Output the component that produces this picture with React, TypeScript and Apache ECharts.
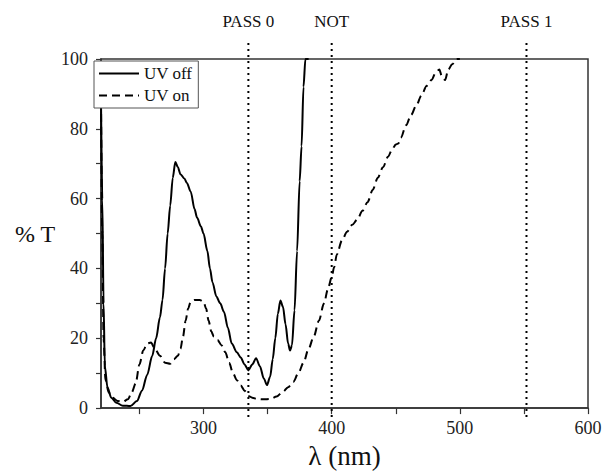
import React, { useEffect, useRef } from "react";
import * as echarts from "echarts";

// UV off (solid) – wavelength (nm) and transmittance (%)
const uvOffWavelength = [220, 221, 222, 223, 225, 228, 232, 237, 243, 248, 252, 256, 260, 263, 266, 268, 270, 272, 274, 276, 278, 280, 282, 285, 287, 290, 293, 295, 298, 300, 303, 305, 307, 310, 313, 316, 319, 322, 326, 329, 332, 335, 338, 341, 344, 347, 349.5, 352, 354, 356, 358, 360, 362, 364, 366, 367.5, 369, 371, 373, 375, 376.5, 378, 379.5, 382];
const uvOffT = [88, 60, 30, 12, 6, 3, 1.5, 0.7, 0.6, 2, 5, 9.5, 15, 20, 26, 31, 40, 50, 58, 66, 70.5, 69, 67, 65.8, 64.5, 62, 57, 54.5, 52, 50, 45, 40, 36, 32, 30, 27.5, 23, 18.5, 16, 14.5, 12.5, 10.8, 12.5, 14.3, 12, 8.5, 6.6, 9, 14, 20, 27, 30.8, 29, 24, 18.5, 16.5, 18, 28, 45, 65, 75, 92, 100, 100];

// UV on (dashed)
const uvOnWavelength = [220, 221, 222, 223.5, 226, 229, 233, 237, 241, 244, 247, 250, 253, 256, 259, 262, 266, 270, 274, 277, 280, 282, 284, 286, 288, 290, 293, 297, 300, 302, 304, 306, 308, 311, 314, 317, 320, 323, 326, 329, 332, 335, 338, 342, 347, 352, 357, 362, 366, 370, 374, 378, 382, 386, 390, 394, 397, 400, 402, 404, 408, 412, 416, 420, 424, 428, 432, 436, 440, 444, 447, 450, 452, 454, 458, 462, 466, 470, 474, 478, 481, 484, 486, 488.5, 491, 494, 497.6, 500];
const uvOnT = [88, 50, 20, 8, 4.5, 3, 2, 1.8, 2.5, 4.5, 7, 12.5, 16.5, 18.5, 18.8, 17, 15, 13, 12.7, 14, 15, 17, 20.5, 25, 28.5, 30.5, 31, 31, 30.5, 28.5, 25, 22, 20.5, 19.5, 18, 16, 13, 10, 8, 6.5, 5, 3.5, 3, 2.6, 2.5, 2.6, 3.3, 4.7, 6, 7.5, 10, 13, 17, 20.5, 25, 30, 34, 37.5, 40.5, 44, 48, 50.5, 52.5, 54, 56.5, 59, 62.5, 66, 69, 72, 74, 75.5, 75.8, 77.5, 81, 84, 86.7, 89.5, 92.3, 94, 96, 97, 95, 94, 97, 98.5, 100, 100];

// Reference lines
const markerWavelengths = [335, 400, 552];
const markerLabels = ["PASS 0", "NOT", "PASS 1"];

// Axis ticks
const xLabelValues = [300, 400, 500, 600];
const xTickValues = [250, 300, 350, 400, 450, 500, 550, 600];

const FONT = "Liberation Serif, serif";
const AXIS_COLOR = "#333";

export default function App() {
  const ref = useRef<HTMLDivElement>(null);

  useEffect(() => {
    const chart = echarts.init(ref.current!, null, { renderer: "svg" });

    const offData = uvOffWavelength.map((w, i) => [w, uvOffT[i]]);
    const onData = uvOnWavelength.map((w, i) => [w, uvOnT[i]]);

    const markerSeries = markerWavelengths.map((w, i) => ({
      type: "line",
      name: markerLabels[i],
      xAxisIndex: 1,
      yAxisIndex: 1,
      data: [
        [w, 0],
        [w, 1],
      ],
      showSymbol: false,
      symbol: "none",
      silent: true,
      lineStyle: { color: "#000", width: 2, type: [2, 4] },
      z: 1,
    }));

    chart.setOption({
      animation: false,
      backgroundColor: "#fff",
      textStyle: { fontFamily: FONT },
      grid: [
        {
          left: 101,
          right: 18,
          top: 59,
          bottom: 57,
          show: true,
          borderColor: AXIS_COLOR,
          borderWidth: 1.5,
          backgroundColor: "transparent",
        },
        { left: 101, right: 18, top: 43, bottom: 57 },
      ],
      legend: {
        data: ["UV off", "UV on"],
        orient: "vertical",
        left: 94,
        top: 61,
        itemWidth: 40,
        itemHeight: 14,
        itemGap: 5,
        padding: [4, 6, 4, 4],
        borderColor: "#555",
        borderWidth: 1,
        backgroundColor: "#fff",
        itemStyle: { opacity: 0 },
        textStyle: { fontFamily: FONT, fontSize: 17, color: "#111" },
        selectedMode: false,
      },
      xAxis: [
        {
          type: "value",
          gridIndex: 0,
          min: 220,
          max: 600,
          name: "λ (nm)",
          nameLocation: "middle",
          nameGap: 31,
          nameTextStyle: { fontFamily: FONT, fontSize: 27, color: "#111" },
          axisLine: { show: true, lineStyle: { color: AXIS_COLOR, width: 1.5 } },
          axisTick: {
            show: true,
            inside: false,
            length: 6,
            customValues: xTickValues,
            lineStyle: { color: AXIS_COLOR, width: 1.2 },
          },
          axisLabel: {
            customValues: xLabelValues,
            fontFamily: FONT,
            fontSize: 18,
            color: "#222",
            margin: 11,
          },
          splitLine: { show: false },
        },
        {
          type: "value",
          gridIndex: 1,
          min: 220,
          max: 600,
          position: "top",
          axisLine: { show: false },
          axisTick: { show: false },
          splitLine: { show: false },
          axisLabel: {
            customValues: markerWavelengths,
            formatter: (v: number) => markerLabels[markerWavelengths.indexOf(v)] ?? "",
            fontFamily: FONT,
            fontSize: 17,
            color: "#111",
            margin: 13,
          },
        },
      ],
      yAxis: [
        {
          type: "value",
          gridIndex: 0,
          min: 0,
          max: 100,
          interval: 10,
          name: "% T",
          nameLocation: "middle",
          nameRotate: 0,
          nameGap: 35,
          nameTextStyle: { fontFamily: FONT, fontSize: 24, color: "#111" },
          axisLine: { show: true, lineStyle: { color: AXIS_COLOR, width: 1.5 } },
          axisTick: { show: true, inside: false, length: 5, lineStyle: { color: AXIS_COLOR, width: 1.2 } },
          axisLabel: {
            formatter: (v: number) => (v % 20 === 0 ? String(v) : ""),
            fontFamily: FONT,
            fontSize: 18,
            color: "#222",
            margin: 13,
          },
          splitLine: { show: false },
        },
        {
          type: "value",
          gridIndex: 1,
          min: 0,
          max: 1,
          show: false,
        },
      ],
      series: [
        ...markerSeries,
        {
          type: "line",
          name: "UV off",
          xAxisIndex: 0,
          yAxisIndex: 0,
          data: offData,
          showSymbol: false,
          symbol: "none",
          smooth: 0.3,
          smoothMonotone: "x",
          lineStyle: { color: "#000", width: 2, type: "solid" },
          itemStyle: { color: "#000" },
          z: 3,
        },
        {
          type: "line",
          name: "UV on",
          xAxisIndex: 0,
          yAxisIndex: 0,
          data: onData,
          showSymbol: false,
          symbol: "none",
          smooth: 0.3,
          smoothMonotone: "x",
          lineStyle: { color: "#000", width: 2, type: [8, 5] },
          itemStyle: { color: "#000" },
          z: 3,
        },
      ],
    });

    return () => chart.dispose();
  }, []);

  return (
    <div
      ref={ref}
      style={{ position: "fixed", left: 0, top: 0, width: 606, height: 474, background: "#fff" }}
    />
  );
}
